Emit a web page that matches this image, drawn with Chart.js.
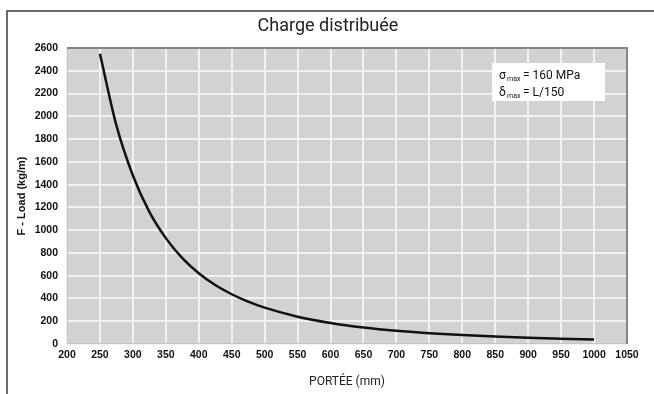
<!DOCTYPE html>
<html>
<head>
<meta charset="utf-8">
<script src="https://cdn.jsdelivr.net/npm/chart.js@4.4.1/dist/chart.umd.min.js"></script>
<style>
  html, body { margin: 0; padding: 0; background: #fff; }
  #wrap { width: 654px; height: 394px; }
</style>
</head>
<body>
<div id="wrap"><canvas id="chart" width="654" height="394"></canvas></div>
<script>
// span (mm) and load (kg/m)
const portee = [250, 275, 300, 325, 350, 375, 400, 425, 450, 475, 500, 550, 600, 650, 700, 750, 800, 850, 900, 950, 1000];
const charge = [2550, 1920, 1480, 1160, 930, 755, 622, 518, 437, 372, 319, 240, 185, 145, 116, 95, 78, 65, 55, 47, 40];

const xMin = 200, xMax = 1050, xStep = 50;
const yMin = 0, yMax = 2600, yStep = 200;

const titleText = 'Charge distribuée';
const xTitle = 'PORTÉE (mm)';
const yTitle = 'F - Load (kg/m)';

const tickFont = { family: '"Liberation Sans Narrow", "Liberation Sans", Arial, sans-serif', size: 10.5, weight: 'bold' };

// frame, title, plot background and the sigma/delta box
const decor = {
    id: 'decor',
    beforeDraw(chart) {
        const c = chart.ctx, a = chart.chartArea;
        c.save();
        c.fillStyle = '#d3d2d3';
        c.fillRect(a.left, a.top, a.right - a.left, a.bottom - a.top);
        c.restore();
    },
    afterDatasetsDraw(chart) {
        const c = chart.ctx, a = chart.chartArea;
        c.save();
        // plot border
        c.strokeStyle = '#c4c4c4';
        c.lineWidth = 1;
        c.beginPath();
        c.moveTo(a.left + 0.5, a.top);
        c.lineTo(a.left + 0.5, a.bottom - 0.5);
        c.lineTo(a.right, a.bottom - 0.5);
        c.stroke();
        c.strokeStyle = '#858585';
        c.lineWidth = 2;
        c.beginPath();
        c.moveTo(a.left, a.top);
        c.lineTo(a.right, a.top);
        c.lineTo(a.right, a.bottom);
        c.stroke();

        // outer frame
        c.strokeStyle = '#3a3a3a';
        c.lineWidth = 1.5;
        c.beginPath();
        c.moveTo(7, 394);
        c.lineTo(7, 11);
        c.lineTo(654, 11);
        c.stroke();

        // title
        c.fillStyle = '#222';
        c.font = '18px Roboto, sans-serif';
        c.textAlign = 'center';
        c.textBaseline = 'middle';
        c.fillText(titleText, 328, 26);

        // legend box
        const bx = a.right - 135, by = a.top + 15;
        c.fillStyle = '#ffffff';
        c.fillRect(bx, by, 113, 38);
        c.fillStyle = '#111';
        c.textAlign = 'left';
        c.textBaseline = 'alphabetic';
        c.font = '12px Roboto, sans-serif';
        c.fillText('σ', bx + 7, by + 16);
        c.fillText('δ', bx + 7, by + 33);
        c.font = '7px Roboto, sans-serif';
        c.fillText('max', bx + 15, by + 18);
        c.fillText('max', bx + 15, by + 35);
        c.font = '12px Roboto, sans-serif';
        c.fillText('= 160 MPa', bx + 31, by + 16);
        c.fillText('= L/150', bx + 31, by + 33);
        c.restore();
    }
};

new Chart(document.getElementById('chart'), {
    type: 'line',
    data: {
        datasets: [{
            data: portee.map((x, i) => ({ x: x, y: charge[i] })),
            borderColor: '#111111',
            borderWidth: 2.5,
            pointRadius: 0,
            cubicInterpolationMode: 'monotone',
            fill: false
        }]
    },
    options: {
        responsive: false,
        animation: false,
        layout: { padding: { top: 48, right: 27, left: 0, bottom: 0 } },
        plugins: {
            legend: { display: false },
            tooltip: { enabled: false },
            title: { display: false }
        },
        scales: {
            x: {
                type: 'linear',
                min: xMin, max: xMax,
                border: { display: false },
                grid: { color: '#f2f2f2', lineWidth: 2, drawTicks: false },
                ticks: { stepSize: xStep, font: tickFont, color: '#111', padding: 5, maxRotation: 0, autoSkip: false,
                         callback: v => String(v) },
                title: { display: true, text: xTitle, color: '#222', font: { family: 'Roboto, sans-serif', size: 12 }, padding: { top: 0, bottom: 5 } },
                afterFit(scale) { scale.height = 50; }
            },
            y: {
                min: yMin, max: yMax,
                border: { display: false },
                grid: { color: '#f2f2f2', lineWidth: 2, drawTicks: false },
                ticks: { stepSize: yStep, font: tickFont, color: '#111', padding: 9, autoSkip: false,
                         callback: v => String(v) },
                title: { display: true, text: yTitle, color: '#111', font: { family: '"Liberation Sans", Arial, sans-serif', size: 11, weight: 'bold' }, padding: { top: 15, bottom: 0 } },
                afterFit(scale) { scale.width = 67; }
            }
        }
    },
    plugins: [decor]
});
</script>
</body>
</html>
